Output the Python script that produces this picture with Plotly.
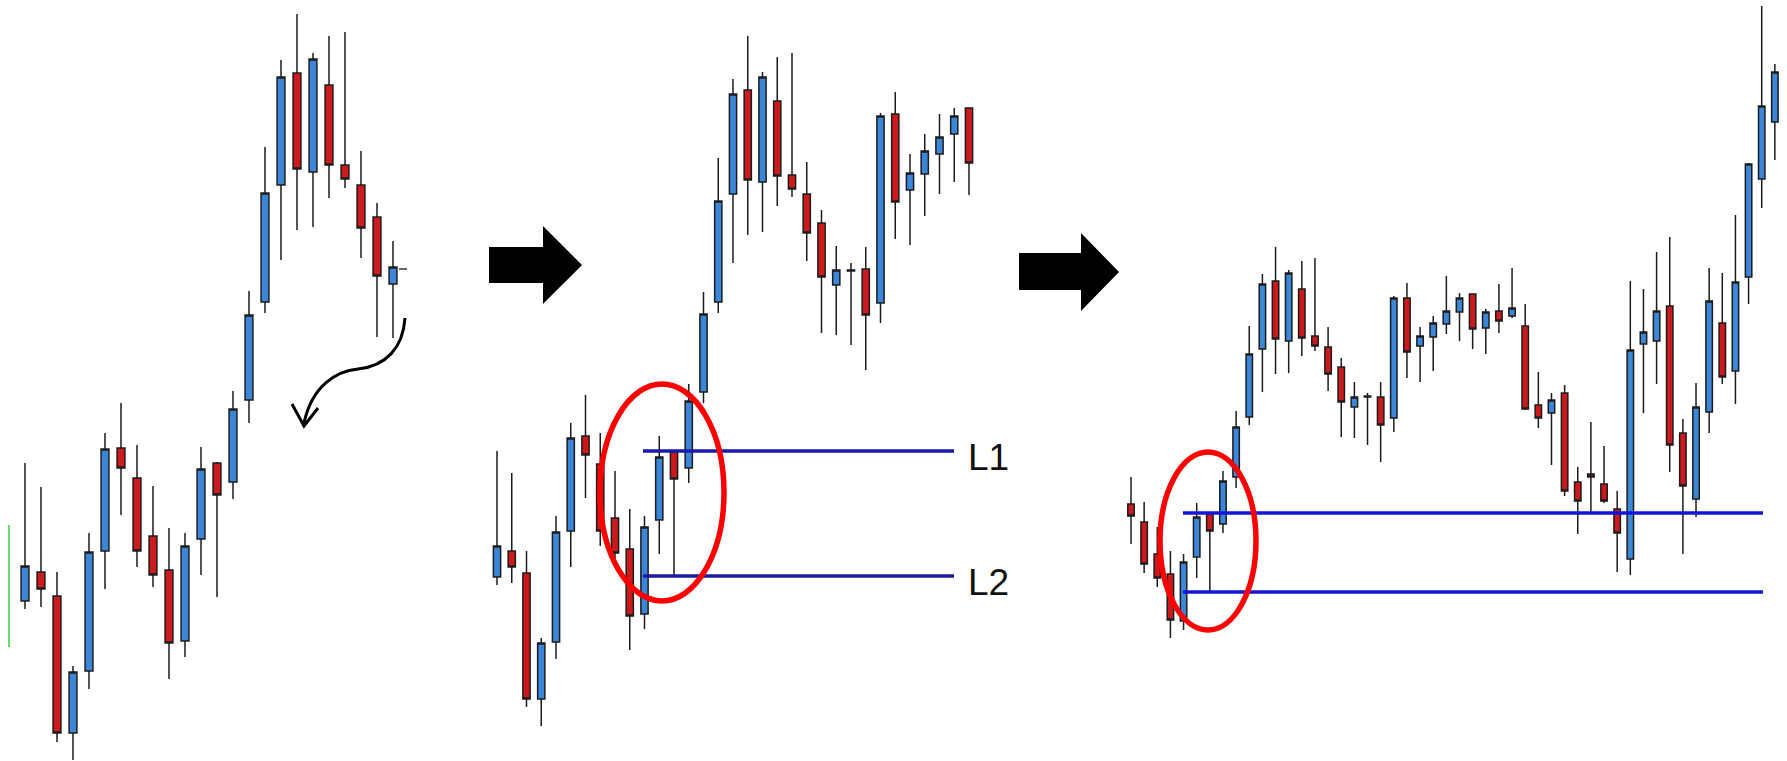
import plotly.graph_objects as go

# ---------------- data (price units) ----------------
# Panel 1 : initial situation
p1_open  = [160, 189, 165, 28, 90, 210, 313, 283, 225, 191, 120, 222, 298, 279, 361, 459, 576, 688, 589, 676, 596, 576, 544, 477]
p1_high  = [298, 274, 189, 95, 228, 328, 358, 316, 275, 233, 228, 314, 299, 370, 470, 614, 701, 747, 708, 725, 729, 610, 558, 520]
p1_low   = [152, 154, 19, 1, 72, 172, 246, 194, 174, 82, 104, 186, 164, 262, 338, 448, 501, 531, 534, 563, 573, 503, 424, 423]
p1_close = [195, 172, 28, 89, 209, 312, 293, 210, 186, 118, 215, 292, 266, 352, 446, 568, 684, 592, 702, 596, 582, 533, 485, 494]

# Panel 2 : pullback with L1 / L2 levels
p2_open  = [184, 210, 188, 62, 119, 230, 325, 297, 243, 212, 147, 241, 309, 293, 369, 459, 567, 671, 579, 660, 586, 567, 538, 476, 491, 492, 458, 647, 571, 587, 607, 627, 653]
p2_high  = [310, 288, 210, 123, 245, 338, 366, 328, 290, 252, 245, 325, 310, 377, 469, 603, 682, 725, 689, 704, 708, 599, 551, 515, 498, 514, 648, 669, 607, 627, 647, 653, 653]
p2_low   = [176, 178, 54, 35, 102, 194, 263, 215, 198, 111, 132, 207, 186, 278, 358, 448, 498, 526, 529, 555, 564, 500, 428, 426, 416, 391, 438, 522, 516, 545, 567, 579, 566]
p2_close = [215, 194, 62, 118, 229, 323, 306, 230, 208, 145, 234, 304, 282, 360, 447, 560, 667, 581, 684, 585, 572, 528, 484, 491, 490, 446, 645, 559, 588, 610, 624, 645, 598]
p2_levels = {"L1": 310, "L2": 185}

# Panel 3 : longer history, levels extended
p3_open  = [257, 239, 207, 187, 140, 204, 247, 237, 284, 344, 412, 480, 420, 472, 425, 414, 394, 354, 365, 364, 343, 463, 415, 424, 437, 449, 467, 433, 450, 445, 435, 356, 348, 368, 279, 287, 277, 252, 202, 417, 420, 455, 328, 262, 349, 438, 390, 484, 582, 639]
p3_high  = [284, 259, 234, 210, 207, 258, 248, 290, 350, 435, 487, 514, 491, 500, 503, 434, 403, 379, 368, 379, 465, 478, 434, 445, 485, 468, 467, 452, 477, 493, 457, 389, 368, 376, 294, 339, 315, 270, 480, 472, 509, 524, 342, 378, 493, 488, 546, 598, 755, 697]
p3_low   = [217, 188, 174, 123, 131, 183, 169, 228, 273, 336, 369, 387, 388, 405, 410, 370, 324, 323, 316, 299, 329, 383, 379, 390, 427, 420, 412, 407, 428, 443, 351, 333, 296, 265, 227, 249, 258, 189, 186, 348, 377, 289, 207, 244, 328, 377, 357, 457, 553, 601]
p3_close = [245, 197, 183, 141, 199, 244, 230, 280, 334, 407, 477, 422, 488, 423, 415, 387, 359, 364, 364, 336, 463, 409, 425, 438, 450, 463, 432, 449, 440, 453, 352, 343, 361, 270, 260, 284, 260, 228, 411, 429, 450, 316, 275, 354, 460, 384, 479, 597, 655, 689]
p3_levels = {"upper": 248, "lower": 169}

labels = ["L1", "L2"]

# ---------------- layout helpers ----------------
W, H = 1787, 761
BLUE = "#3a86d8"
RED = "#cc1a1c"
WICK = "#1c1c1c"

def px(x):
    return x / W

def py(y):
    return 1 - y / H

# pixel position of first candle and candle spacing for each panel
PANEL_X0 = [25, 497, 1131]
PANEL_STEP = [16, 14.75, 13.14]

fig = go.Figure()
panels = [
    (p1_open, p1_high, p1_low, p1_close),
    (p2_open, p2_high, p2_low, p2_close),
    (p3_open, p3_high, p3_low, p3_close),
]
for k, (o, h, l, c) in enumerate(panels):
    xa = "x" if k == 0 else f"x{k+1}"
    fig.add_trace(go.Candlestick(
        x=list(range(len(o))), open=o, high=h, low=l, close=c,
        xaxis=xa, yaxis="y",
        increasing=dict(fillcolor=BLUE, line=dict(color=WICK, width=1.5)),
        decreasing=dict(fillcolor=RED, line=dict(color=WICK, width=1.5)),
        whiskerwidth=0, showlegend=False, hoverinfo="skip",
    ))

layout_axes = {}
for k in range(3):
    name = "xaxis" if k == 0 else f"xaxis{k+1}"
    x0, s = PANEL_X0[k], PANEL_STEP[k]
    layout_axes[name] = dict(
        domain=[0, 1], range=[-x0 / s, (W - x0) / s], visible=False,
        showgrid=False, zeroline=False, rangeslider=dict(visible=False),
        fixedrange=True, anchor="y",
    )
    if k > 0:
        layout_axes[name]["overlaying"] = "x"

shapes = []

# block arrows between panels
def block_arrow(xs, xe, ytop, ybot, headtop, headbot, tip):
    ym = (headtop + headbot) / 2
    pts = [(xs, ytop), (xe, ytop), (xe, headtop), (tip, ym), (xe, headbot), (xe, ybot), (xs, ybot)]
    d = "M " + " L ".join(f"{px(a):.5f},{py(b):.5f}" for a, b in pts) + " Z"
    return dict(type="path", xref="paper", yref="paper", path=d,
                fillcolor="black", line=dict(color="black", width=0))

shapes.append(block_arrow(489, 543, 247, 283, 226, 304, 582))
shapes.append(block_arrow(1019, 1081, 253, 290, 233, 311, 1119))

# curved arrow in panel 1
def P(x, y):
    return f"{px(x):.5f},{py(y):.5f}"

curve = f"M {P(405,318)} C {P(403,348)} {P(386,366)} {P(358,369)} C {P(336,371)} {P(312,386)} {P(304,423)}"
shapes.append(dict(type="path", xref="paper", yref="paper", path=curve,
                   line=dict(color="black", width=3)))
head = f"M {P(292,404)} L {P(304,426)} L {P(318,408)}"
shapes.append(dict(type="path", xref="paper", yref="paper", path=head,
                   line=dict(color="black", width=3)))

# small green marker line at the far left and a short dash after the last candle
shapes.append(dict(type="line", xref="paper", yref="paper", x0=px(9), x1=px(9), y0=py(525), y1=py(647),
                   line=dict(color="#66dd66", width=2)))
shapes.append(dict(type="line", xref="paper", yref="paper", x0=px(399), x1=px(407), y0=py(269), y1=py(269),
                   line=dict(color="#333333", width=1.5)))

# horizontal levels
for lvl in p2_levels.values():
    shapes.append(dict(type="line", xref="paper", yref="y", x0=px(643), x1=px(954), y0=lvl, y1=lvl,
                       line=dict(color="#1a1aa8", width=3.5)))
for lvl in p3_levels.values():
    shapes.append(dict(type="line", xref="paper", yref="y", x0=px(1183), x1=px(1763), y0=lvl, y1=lvl,
                       line=dict(color="#1414d8", width=3.5)))

# red ellipses
shapes.append(dict(type="circle", xref="paper", yref="paper", x0=px(600), x1=px(724), y0=py(601), y1=py(384),
                   line=dict(color="#ff0000", width=5.5)))
shapes.append(dict(type="circle", xref="paper", yref="paper", x0=px(1160), x1=px(1256), y0=py(630), y1=py(452),
                   line=dict(color="#ff0000", width=5.5)))

annotations = []
for name, lvl in zip(labels, p2_levels.values()):
    annotations.append(dict(text=name, xref="paper", yref="y", x=px(966), y=lvl - 6,
                            xanchor="left", yanchor="middle", showarrow=False,
                            font=dict(family="Liberation Sans, Arial", size=37, color="#111111")))

fig.update_layout(
    width=W, height=H,
    margin=dict(l=0, r=0, t=0, b=0),
    paper_bgcolor="white", plot_bgcolor="white",
    yaxis=dict(domain=[0, 1], range=[0, H], visible=False, fixedrange=True),
    shapes=shapes, annotations=annotations,
    showlegend=False,
    **layout_axes,
)

fig.write_html("out.html", config={"displayModeBar": False},
               post_script="document.body.style.margin='0';document.body.style.overflow='hidden';")
